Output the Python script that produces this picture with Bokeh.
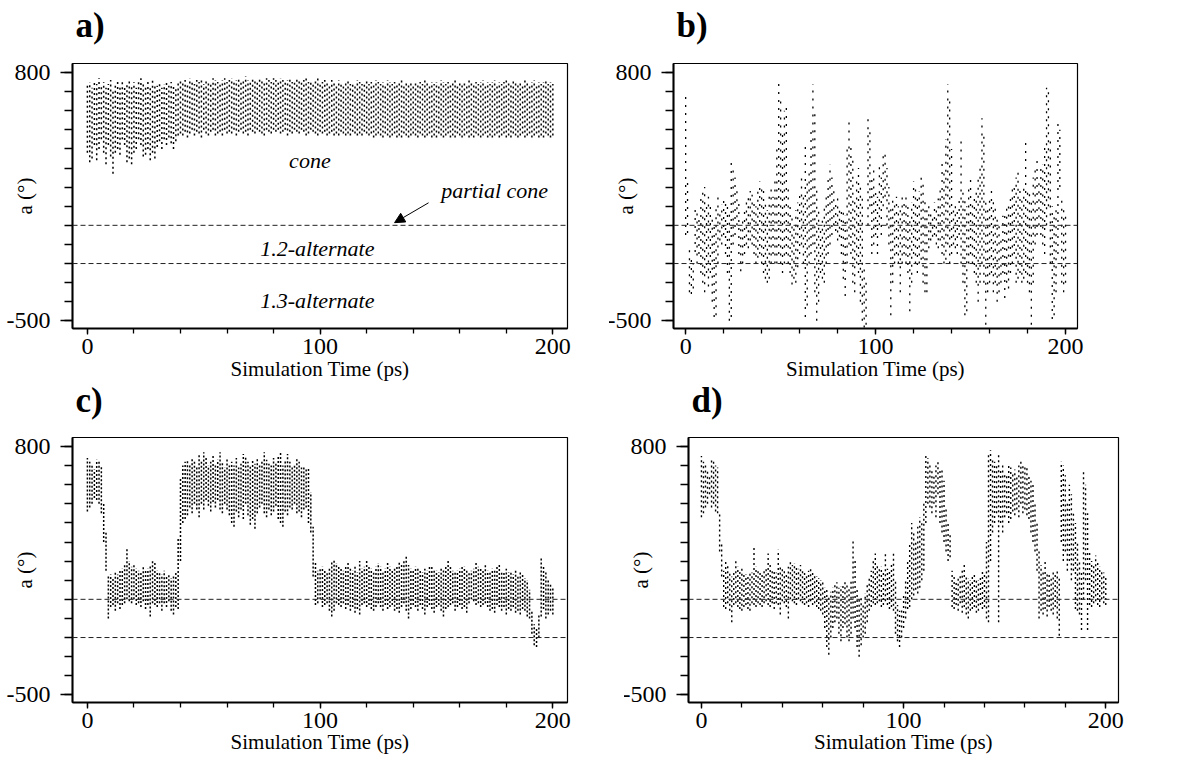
from bokeh.plotting import figure
from bokeh.layouts import column, row
from bokeh.models import Range1d, FixedTicker, Span, Label, Arrow, NormalHead
from bokeh.embed import file_html
from bokeh.resources import INLINE

# ---------------- data ----------------
TIME = list(range(0, 201))  # ps, one column of sampled angles per ps

# panel a: range of the angle reached in each ps (low, high)
A_LO = [380,330,350,420,340,400,450,380,320,420,
        360,270,380,400,370,450,420,330,350,320,
        380,400,450,420,360,370,400,340,380,350,
        410,440,400,450,420,460,430,400,440,470,
        480,470,490,460,480,500,470,490,480,460,
        500,480,470,490,500,470,480,490,470,500,
        480,490,480,500,470,490,500,480,490,470,
        500,490,480,500,490,480,470,500,490,480,
        500,490,500,480,490,500,470,490,480,500,
        490,480,500,490,470,480,500,490,480,470,
        490,480,490,470,480,490,470,480,470,490,
        480,470,480,470,490,480,470,480,470,490,
        480,470,480,460,470,480,470,460,480,470,
        460,470,480,460,470,460,480,470,460,470,
        480,470,460,480,470,460,470,480,460,470,
        460,480,470,460,470,480,460,470,460,480,
        470,460,470,480,460,470,460,480,470,460,
        470,480,460,470,460,470,480,460,470,480,
        460,470,460,480,470,460,470,480,460,470,
        480,460,470,480,460,470,460,480,470,460,
        470]
A_HI = [740,750,720,760,740,770,730,750,720,740,
        760,700,740,760,730,750,720,740,760,730,
        750,720,760,770,740,730,750,720,760,740,
        730,750,720,740,760,730,750,740,720,750,
        760,750,760,740,770,750,740,760,750,770,
        740,760,750,740,770,760,750,740,760,770,
        750,760,770,750,760,770,750,760,780,760,
        750,770,760,750,770,760,750,770,760,750,
        770,760,750,770,760,750,760,770,750,760,
        770,760,750,760,770,750,760,750,760,770,
        750,750,760,750,740,760,750,740,760,750,
        740,750,760,740,750,740,760,750,740,750,
        760,740,750,740,760,750,740,750,740,760,
        750,740,750,740,750,760,740,750,740,750,
        740,750,740,750,740,760,750,740,750,740,
        750,740,760,750,740,750,740,750,760,740,
        750,740,750,740,760,750,740,750,740,750,
        760,740,750,740,750,760,740,750,740,750,
        760,750,740,760,750,740,750,740,760,750,
        740,750,760,740,750,740,750,760,740,750,
        740]

# panel b
B_LO = [-50,-40,-350,-360,-330,-140,-200,-150,-250,-300,
        -350,-250,-320,-250,-400,-480,-470,-200,-80,-100,
        -50,-150,-250,-500,-480,-100,-50,0,-150,-240,
        -200,-150,-100,-120,-80,-100,-150,-200,-170,-150,
        -200,-250,-280,-300,-280,-200,-150,-200,-200,-150,
        -200,-250,-200,-150,-200,-250,-310,-280,-300,-220,
        -150,-100,-200,-480,-420,-200,-150,-100,-350,-500,
        -400,-250,-280,-300,-200,-150,-100,-50,0,-30,
        -80,-60,-150,-280,-370,-200,-100,-150,-300,-350,
        -200,-250,-400,-500,-535,-520,0,100,-150,-100,
        -50,-150,0,-50,100,150,0,-100,-470,-300,
        -200,-150,-200,-350,-200,-150,-200,-250,-450,-300,
        -150,-200,-250,-200,-180,-300,-350,-350,-120,-80,
        -60,-50,-100,-120,-80,-150,-200,-180,-100,-200,
        -150,-100,-120,-150,-50,-200,-300,-470,-450,-200,
        -150,-200,-250,-300,-400,-300,-200,-300,-520,-350,
        -300,-250,-350,-300,-400,-350,-300,-250,-380,-300,
        -330,-250,-200,-150,-300,-280,-250,-300,-280,-250,
        -300,-350,-520,-300,-100,-50,0,-50,-100,-150,
        0,100,-200,-490,-470,-350,-150,200,-300,-350,
        -300]
B_HI = [700,240,-100,-150,-200,100,80,50,150,180,
        200,100,150,120,60,20,100,150,80,110,
        130,140,100,60,350,300,250,200,120,0,
        50,80,120,150,180,160,120,100,200,230,
        210,200,120,80,150,200,150,250,400,740,
        650,500,600,630,200,100,50,0,80,120,
        180,250,150,430,250,300,500,740,600,200,
        100,0,50,100,150,250,320,250,180,130,
        150,90,100,80,50,400,560,420,350,150,
        250,300,200,150,-200,-300,580,500,250,300,
        200,150,320,250,370,380,300,200,100,150,
        130,150,100,80,170,130,150,100,50,120,
        230,200,150,180,260,240,150,100,120,80,
        60,120,90,140,200,350,300,450,740,650,
        400,100,120,80,150,440,200,150,100,200,
        250,120,150,200,250,300,560,480,150,100,
        150,200,150,100,50,0,-50,50,80,100,
        120,150,200,220,250,300,180,150,200,450,
        200,180,150,250,300,350,250,300,320,420,
        720,700,450,100,50,100,530,500,150,100,
        50]

# panel c
C_LO = [460,480,500,530,520,500,450,300,150,-100,
        -40,-30,-60,-20,-50,-30,-20,0,-10,-20,
        0,-30,-20,-40,-10,-50,-30,-90,-20,-30,
        -40,-20,-60,-20,-40,-10,-60,-80,-40,-50,
        200,400,420,440,480,450,500,470,430,500,
        470,520,490,460,510,480,520,470,450,500,
        470,440,400,380,460,430,470,420,500,440,
        390,420,370,450,480,500,450,430,470,440,
        460,490,420,400,380,460,440,480,470,500,
        450,460,430,470,480,400,350,120,-30,-20,
        0,-40,-30,-20,-60,-90,-60,-20,-30,-40,
        -20,-50,-30,-60,-40,-70,-50,-80,-30,-20,
        -40,-30,-50,-60,-40,-20,-40,-60,-30,-50,
        -40,-30,-60,-50,-70,-40,-20,-60,-100,-50,
        -30,-40,-60,-30,-50,-80,-40,-30,-50,-70,
        -40,-30,-60,-90,-50,-40,-30,-20,-60,-40,
        -30,-50,-40,-70,-20,0,-10,-30,-20,-40,
        -30,-20,-40,-60,-50,-70,-30,-40,-60,-40,
        -80,-50,-60,-40,-70,-60,-80,-50,-60,-90,
        -100,-180,-240,-250,-200,-90,-50,-100,-80,-60,
        -80]
C_HI = [740,720,700,680,730,720,700,500,350,120,
        130,110,140,130,150,160,180,270,200,170,
        180,160,150,140,170,150,160,180,210,200,
        150,140,130,150,120,130,110,130,140,320,
        640,700,720,730,700,740,720,690,760,730,
        770,740,700,720,750,700,730,770,720,690,
        740,700,720,700,740,690,710,760,750,720,
        700,730,710,740,700,720,770,730,710,700,
        740,720,750,770,700,730,760,720,700,710,
        740,720,690,700,680,690,560,380,200,150,
        160,170,150,140,170,200,210,190,170,160,
        150,180,200,160,150,170,140,200,160,170,
        200,180,160,150,170,190,170,150,160,200,
        170,150,160,180,200,190,210,230,180,160,
        150,170,160,150,140,160,150,170,180,160,
        150,140,170,160,180,200,170,150,140,150,
        160,180,170,150,140,150,160,190,170,160,
        150,180,150,140,160,150,170,190,150,140,
        160,140,150,130,150,120,140,130,110,100,
        50,-60,-130,-150,-80,220,180,150,100,80,
        60]

# panel d
D_LO = [430,450,480,500,550,480,500,460,450,250,
        120,-40,-50,-20,-60,-120,-30,-20,-40,-50,
        -60,-40,-30,-50,-60,-20,-30,-40,-20,-30,
        -40,-20,-10,-30,-40,-20,-50,-20,-30,-80,
        -10,-20,-40,-100,0,-10,-20,-30,0,-10,
        -20,-30,-20,-40,-10,-30,-20,-40,-50,-60,
        -80,-150,-250,-290,-200,-150,-120,-100,-180,-220,
        -150,-130,-200,-220,-180,-100,-150,-250,-300,-240,
        -200,-180,-120,-60,-40,-20,-30,-20,-10,-40,
        -30,-10,-30,-50,-40,-60,-180,-220,-250,-200,
        -150,-100,-50,-40,0,20,50,30,60,100,
        150,400,500,480,450,500,430,550,400,350,
        300,250,200,220,-40,-50,-30,-60,-20,-70,
        -40,-80,-100,-60,-50,-40,-70,-60,-30,-50,
        -40,-100,-120,200,350,400,450,-120,400,350,
        430,450,400,420,460,440,470,430,500,450,
        470,440,420,350,300,250,150,-100,-60,-80,
        -50,-90,-40,-60,-80,-40,-100,-190,300,200,
        250,150,200,100,150,-50,-60,-80,-160,0,
        100,-160,-30,-40,-20,-10,-30,-40,0,-20,
        -30]
D_HI = [750,720,700,680,650,740,720,700,690,450,
        300,150,200,180,150,120,140,200,170,150,
        160,140,130,120,150,140,280,170,160,150,
        140,160,170,240,180,160,150,140,260,170,
        160,150,140,170,200,180,190,170,160,180,
        150,140,130,150,160,140,130,120,110,100,
        90,60,50,20,40,60,80,90,60,70,
        80,100,80,60,100,310,200,50,0,20,
        -20,30,80,120,150,200,240,180,160,170,
        150,240,160,150,180,240,100,-30,-60,-50,
        30,100,200,300,400,350,300,380,430,400,
        500,750,740,700,680,650,700,720,680,690,
        620,480,400,340,150,120,100,110,130,150,
        180,120,110,100,120,130,110,100,120,150,
        140,300,770,780,740,720,700,760,680,700,
        660,650,700,690,660,680,650,700,720,710,
        690,700,650,620,600,500,400,250,180,150,
        200,140,130,120,150,140,160,120,720,700,
        650,500,600,550,460,400,300,200,150,680,
        600,450,250,200,180,230,200,170,150,140,
        120]

PANELS = ["a)", "b)", "c)", "d)"]
X_LABEL = "Simulation Time (ps)"
Y_LABEL = "a (\u00b0)"
BOUNDARIES = [0, -200]          # dashed conformation borders
X_TICKS = [0, 100, 200]
X_MINOR = list(range(0, 201, 20))
Y_TICKS = [-500, 800]
Y_MINOR = list(range(-500, 801, 100))

for arr in (A_LO, A_HI, B_LO, B_HI, C_LO, C_HI, D_LO, D_HI):
    assert len(arr) == len(TIME), len(arr)

SERIF = "Liberation Serif"


def panel(lo, hi, tag, fw, fh, left, right, top, bottom, dash, lw,
          xlab_standoff, title_standoff, margin_top):
    p = figure(width=left + fw + right, height=top + fh + bottom,
               x_range=Range1d(-6.4, 206.3), y_range=Range1d(-540, 847),
               output_backend="svg", toolbar_location=None,
               min_border_left=left, min_border_right=right,
               min_border_top=top, min_border_bottom=bottom,
               background_fill_color="white", border_fill_alpha=0)
    p.margin = (margin_top, 0, 0, 0)
    p.grid.visible = False
    p.outline_line_color = "black"
    p.outline_line_width = 1.2

    p.title.text = tag
    p.title.text_font = SERIF
    p.title.text_font_style = "bold"
    p.title.text_font_size = "35px"
    p.title.text_color = "black"
    p.title.align = "left"
    p.title.offset = 3
    p.title.standoff = title_standoff

    for loc in BOUNDARIES:
        p.add_layout(Span(location=loc, dimension="width", line_color="#222222",
                          line_width=1, line_dash="5 3"))

    p.segment(x0=TIME, y0=lo, x1=TIME, y1=hi, line_color="black",
              line_width=lw, line_dash=dash)

    xa = p.xaxis[0]
    xa.ticker = FixedTicker(ticks=X_TICKS, minor_ticks=X_MINOR)
    xa.major_tick_out = 6
    xa.major_tick_in = 0
    xa.minor_tick_out = 5
    xa.minor_tick_in = 0
    xa.major_label_standoff = 4
    xa.axis_label = X_LABEL
    xa.axis_label_standoff = xlab_standoff
    ya = p.yaxis[0]
    ya.ticker = FixedTicker(ticks=Y_TICKS, minor_ticks=Y_MINOR)
    ya.major_label_overrides = {-500: "-500", 800: "800"}
    ya.major_tick_out = 12
    ya.major_tick_in = 0
    ya.minor_tick_out = 8
    ya.minor_tick_in = 0
    ya.major_label_standoff = 10
    ya.axis_label = Y_LABEL
    ya.axis_label_standoff = -33
    for ax in (xa, ya):
        ax.axis_line_width = 2
        ax.axis_line_color = "black"
        ax.major_tick_line_color = "black"
        ax.minor_tick_line_color = "black"
        ax.major_tick_line_width = 1.3
        ax.minor_tick_line_width = 1.3
        ax.major_label_text_font = SERIF
        ax.major_label_text_font_size = "24px"
        ax.major_label_text_color = "black"
        ax.axis_label_text_font = SERIF
        ax.axis_label_text_font_size = "21px"
        ax.axis_label_text_font_style = "normal"
        ax.axis_label_text_color = "black"
    return p


# frames placed at the reference positions (page drawn without body margin)
pa = panel(A_LO, A_HI, PANELS[0], 495, 267, 72, 42, 79, 60, "2 3", 1.5, 0, 38, -16)
pb = panel(B_LO, B_HI, PANELS[1], 404, 266, 64, 20, 78, 62, "2 6", 1.3, 0, 37, -16)
pc = panel(C_LO, C_HI, PANELS[2], 495, 265, 72, 57, 77, 59, "2 2", 1.5, -1, 36, -30)
pd = panel(D_LO, D_HI, PANELS[3], 430, 265, 64, 20, 77, 59, "2 3", 1.4, -1, 36, -30)

# annotations of panel a
ITALIC = dict(text_font=SERIF, text_font_style="italic", text_font_size="22px",
              text_align="center", text_baseline="middle", text_color="black")
pa.add_layout(Label(x=95.6, y=339, text="cone", **ITALIC))
pa.add_layout(Label(x=175, y=183, text="partial cone", **ITALIC))
pa.add_layout(Label(x=98.8, y=-120, text="1.2-alternate", **ITALIC))
pa.add_layout(Label(x=98.8, y=-392, text="1.3-alternate", **ITALIC))
pa.add_layout(Arrow(end=NormalHead(size=10, fill_color="black", line_color="black"),
                    x_start=146.6, y_start=118, x_end=132, y_end=14,
                    line_color="black", line_width=1))

layout = column(row(pa, pb), row(pc, pd))

open("out.html", "w").write(file_html(layout, INLINE, "alpha angle"))
